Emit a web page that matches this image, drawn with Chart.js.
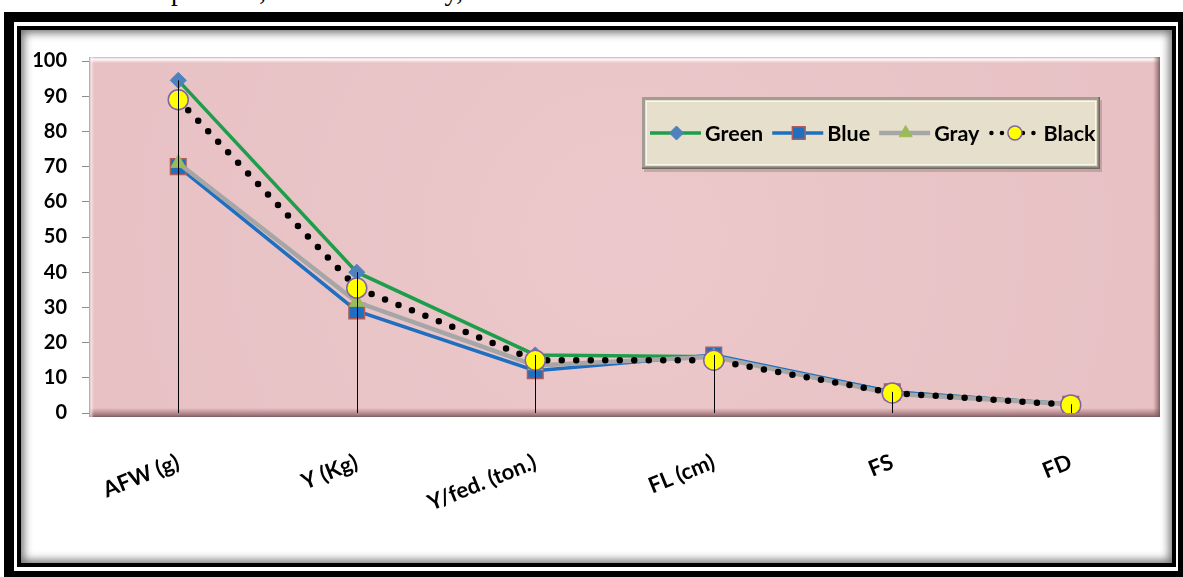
<!DOCTYPE html>
<html>
<head>
<meta charset="utf-8">
<title>Line chart</title>
<script src="https://cdn.jsdelivr.net/npm/chart.js@4.4.1/dist/chart.umd.min.js"></script>
<style>
  html, body { margin: 0; padding: 0; }
  body { width: 1183px; height: 577px; overflow: hidden; background: #fff; position: relative; }
  #caption {
    position: absolute; left: 24px; top: -22px; white-space: nowrap;
    font-family: "Liberation Serif", "Times New Roman", serif; font-size: 27px; line-height: 27px; color: #000;
  }
  #frameOuter {
    position: absolute; left: 4px; top: 12px; width: 1164px; height: 549px;
    border: 10px solid #000; box-sizing: content-box; background: #fff;
  }
  #frameInner {
    position: absolute; left: 17px; top: 26px; width: 1151px; height: 533px;
    border: 4px solid #000; background: #fff;
    box-shadow: inset 0 0 9px 3px rgba(0,0,0,0.55);
  }
  #chart { position: absolute; left: 0; top: 0; }
</style>
</head>
<body>
<div id="caption">actual air temperature, relative humidity, and</div>
<div id="frameOuter"></div>
<div id="frameInner"></div>
<canvas id="chart" width="1183" height="577"></canvas>
<script>
// Categories along the x axis
const categories = ['AFW (g)', 'Y (Kg)', 'Y/fed. (ton.)', 'FL (cm)', 'FS', 'FD'];

// Series values, one per category
const greenValues = [94.5, 40, 16.5, 16, 6, 2.5];
const blueValues  = [70, 29, 12, 16.5, 6, 2.5];
const grayValues  = [71, 31.5, 13.5, 16, 5.5, 2.5];
const blackValues = [89, 35.5, 15, 15, 5.7, 2.3];

// Series names shown in the legend
const seriesNames = ['Green', 'Blue', 'Gray', 'Black'];

// Value axis range and step
const yMin = 0;
const yMax = 100;
const yStep = 10;

const FONT = 'Lato, "Open Sans", "Liberation Sans", sans-serif';

const datasets = [
  {
    label: seriesNames[0], data: greenValues, order: 4,
    borderColor: '#1E9E4A', borderWidth: 3.5,
    pointStyle: 'rectRot', pointRadius: 8,
    pointBackgroundColor: '#4F81BD', pointBorderColor: '#4F81BD', pointBorderWidth: 1,
    legendRadius: 7
  },
  {
    label: seriesNames[1], data: blueValues, order: 3,
    borderColor: '#1F6FC0', borderWidth: 3.5,
    pointStyle: 'rect', pointRadius: 11,
    pointBackgroundColor: '#1F6FC0', pointBorderColor: '#B05A5A', pointBorderWidth: 1.5,
    legendRadius: 9
  },
  {
    label: seriesNames[2], data: grayValues, order: 2,
    borderColor: '#A6A6A6', borderWidth: 4.5,
    pointStyle: 'triangle', pointRadius: 8.5,
    pointBackgroundColor: '#9BBB59', pointBorderColor: '#9BBB59', pointBorderWidth: 1,
    legendRadius: 7.5
  },
  {
    label: seriesNames[3], data: blackValues, order: 1,
    borderColor: '#000000', borderWidth: 6.5,
    borderDash: [0, 14.5], borderCapStyle: 'round',
    pointStyle: 'circle', pointRadius: 10,
    pointBackgroundColor: '#FFFF00', pointBorderColor: '#8064A2', pointBorderWidth: 1.5,
    legendRadius: 7, legendDash: [0, 10.5], legendWidth: 4.5
  }
];
datasets.forEach(d => { d.fill = false; d.tension = 0; d.pointHoverRadius = d.pointRadius; });

// Pink plot panel with a bevelled edge
const panelPlugin = {
  id: 'panel',
  beforeDraw(chart) {
    const { ctx, chartArea: a } = chart;
    const L = a.left, R = a.right, T = a.top - 4, B = a.bottom + 4;
    ctx.save();
    ctx.fillStyle = '#E9C3C6';
    ctx.fillRect(L, T, R - L, B - T);
    const g = ctx.createRadialGradient((L + R) / 2, (T + B) / 2, 50, (L + R) / 2, (T + B) / 2, (R - L) / 1.6);
    g.addColorStop(0, 'rgba(255,235,238,0.12)');
    g.addColorStop(1, 'rgba(205,160,165,0.10)');
    ctx.fillStyle = g;
    ctx.fillRect(L, T, R - L, B - T);
    // top highlight
    let gr = ctx.createLinearGradient(0, T, 0, T + 6);
    gr.addColorStop(0, 'rgba(210,170,175,0.9)');
    gr.addColorStop(0.35, 'rgba(255,255,255,0.95)');
    gr.addColorStop(1, 'rgba(255,255,255,0)');
    ctx.fillStyle = gr; ctx.fillRect(L, T, R - L, 6);
    // bottom shade
    gr = ctx.createLinearGradient(0, B - 9, 0, B);
    gr.addColorStop(0, 'rgba(150,100,105,0)');
    gr.addColorStop(0.7, 'rgba(150,105,110,0.75)');
    gr.addColorStop(1, 'rgba(110,80,85,0.9)');
    ctx.fillStyle = gr; ctx.fillRect(L, B - 9, R - L, 9);
    // right shade
    gr = ctx.createLinearGradient(R - 7, 0, R, 0);
    gr.addColorStop(0, 'rgba(150,100,105,0)');
    gr.addColorStop(1, 'rgba(110,80,85,0.85)');
    ctx.fillStyle = gr; ctx.fillRect(R - 7, T, 7, B - T);
    // left edge
    gr = ctx.createLinearGradient(L, 0, L + 5, 0);
    gr.addColorStop(0, 'rgba(160,140,140,0.9)');
    gr.addColorStop(0.4, 'rgba(255,245,245,0.6)');
    gr.addColorStop(1, 'rgba(255,255,255,0)');
    ctx.fillStyle = gr; ctx.fillRect(L, T, 5, B - T);
    ctx.restore();
  }
};

// Vertical drop line from each category's highest point to the axis
const dropLinePlugin = {
  id: 'dropLines',
  afterDatasetsDraw(chart) {
    const { ctx, scales: { x, y } } = chart;
    ctx.save();
    ctx.strokeStyle = '#000';
    ctx.lineWidth = 1;
    categories.forEach((c, i) => {
      const top = Math.max(...chart.data.datasets.map(d => d.data[i]));
      const px = Math.round(x.getPixelForValue(i)) + 0.5;
      ctx.beginPath();
      ctx.moveTo(px, y.getPixelForValue(top));
      ctx.lineTo(px, y.getPixelForValue(yMin));
      ctx.stroke();
    });
    ctx.restore();
  }
};

function drawMarker(ctx, style, r, fill, stroke, bw, cx, cy) {
  ctx.save();
  ctx.fillStyle = fill; ctx.strokeStyle = stroke; ctx.lineWidth = bw;
  ctx.beginPath();
  if (style === 'rectRot') {
    ctx.moveTo(cx, cy - r); ctx.lineTo(cx + r, cy); ctx.lineTo(cx, cy + r); ctx.lineTo(cx - r, cy); ctx.closePath();
  } else if (style === 'rect') {
    const s = r * Math.SQRT1_2;
    ctx.rect(cx - s, cy - s, 2 * s, 2 * s);
  } else if (style === 'triangle') {
    ctx.moveTo(cx, cy - r);
    ctx.lineTo(cx + r * Math.sin(Math.PI / 3), cy + r / 2);
    ctx.lineTo(cx - r * Math.sin(Math.PI / 3), cy + r / 2);
    ctx.closePath();
  } else {
    ctx.arc(cx, cy, r, 0, Math.PI * 2);
  }
  ctx.fill();
  if (bw) ctx.stroke();
  ctx.restore();
}

// Legend box in the upper right of the plot
const legendPlugin = {
  id: 'boxLegend',
  afterDraw(chart) {
    const { ctx } = chart;
    const bx = 642, by = 97, bw = 458, bh = 72;
    ctx.save();
    ctx.fillStyle = 'rgba(90,70,60,0.25)';
    ctx.fillRect(bx + 2, by + 3, bw, bh);
    ctx.fillStyle = '#E6DFCC';
    ctx.fillRect(bx, by, bw, bh);
    ctx.strokeStyle = '#A29D90'; ctx.lineWidth = 3;
    ctx.strokeRect(bx + 1.5, by + 1.5, bw - 3, bh - 3);
    ctx.strokeStyle = '#6E695E'; ctx.lineWidth = 1.5;
    ctx.beginPath();
    ctx.moveTo(bx, by + bh - 0.75); ctx.lineTo(bx + bw, by + bh - 0.75);
    ctx.moveTo(bx + bw - 0.75, by); ctx.lineTo(bx + bw - 0.75, by + bh);
    ctx.stroke();
    ctx.strokeStyle = 'rgba(255,255,255,0.7)'; ctx.lineWidth = 1;
    ctx.strokeRect(bx + 4.5, by + 4.5, bw - 9, bh - 9);

    ctx.font = 'bold 21.5px ' + FONT;
    ctx.textBaseline = 'middle';
    ctx.fillStyle = '#000';
    const cy = by + 36;
    let cx = 650;
    const symW = 51;
    chart.data.datasets.forEach(d => {
      ctx.save();
      ctx.strokeStyle = d.borderColor;
      ctx.lineWidth = d.legendWidth || d.borderWidth;
      ctx.lineCap = d.legendDash ? 'round' : 'butt';
      ctx.setLineDash(d.legendDash || []);
      ctx.beginPath();
      ctx.moveTo(cx + (d.legendDash ? 3 : 0), cy);
      ctx.lineTo(cx + symW, cy);
      ctx.stroke();
      ctx.restore();
      drawMarker(ctx, d.pointStyle, d.legendRadius, d.pointBackgroundColor, d.pointBorderColor, d.pointBorderWidth, cx + symW / 2 + 1, cy);
      ctx.fillStyle = '#000';
      ctx.fillText(d.label, cx + symW + 4, cy + 1);
      cx += symW + 4 + ctx.measureText(d.label).width + 9;
    });
    ctx.restore();
  }
};

new Chart(document.getElementById('chart'), {
  type: 'line',
  data: { labels: categories, datasets },
  plugins: [panelPlugin, dropLinePlugin, legendPlugin],
  options: {
    responsive: false,
    animation: false,
    devicePixelRatio: 1,
    layout: { padding: { left: 0, right: 23, top: 61, bottom: 0 } },
    plugins: { legend: { display: false }, tooltip: { enabled: false }, title: { display: false } },
    scales: {
      x: {
        type: 'category',
        offset: true,
        grid: { display: false },
        border: { display: false },
        ticks: {
          minRotation: 22, maxRotation: 22, padding: 28,
          color: '#000', font: { family: FONT, size: 22, weight: 'bold' }
        },
        afterFit(s) { s.height = 164; }
      },
      y: {
        min: yMin, max: yMax,
        grid: { drawOnChartArea: false, tickLength: 7, color: '#8C8C8C', tickWidth: 1 },
        border: { display: false },
        ticks: {
          stepSize: yStep, padding: 15,
          color: '#000', font: { family: FONT, size: 20, weight: 'bold' }
        },
        afterFit(s) { s.width = 89; }
      }
    }
  }
});
</script>
</body>
</html>
